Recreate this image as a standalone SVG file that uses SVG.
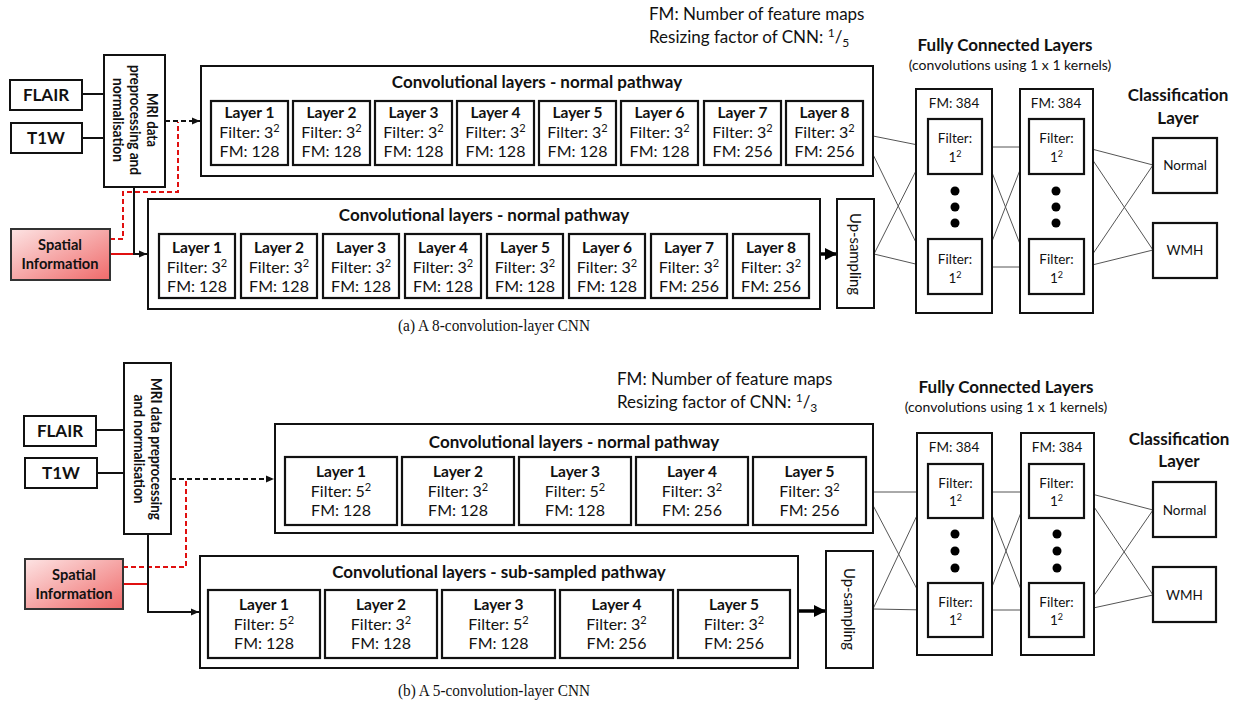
<svg xmlns="http://www.w3.org/2000/svg" width="1239" height="702" viewBox="0 0 1239 702">
<defs>
<style>
text{font-family:Lato,"Open Sans","Liberation Sans",sans-serif;fill:#111}
.box{fill:#fff;stroke:#111;stroke-width:2}
.lb{fill:#fff;stroke:#111;stroke-width:2.2}
.b{font-weight:bold}
.t16{font-size:16px}
.t14{font-size:14px}
.t13{font-size:13.5px}
.t17{font-size:17px}
.m{text-anchor:middle}
.ly{font-size:16px;text-anchor:middle}
.ly .b{font-size:15.5px}
.sup{font-size:11px}
.cap{font-family:"Liberation Serif","Times New Roman",serif;font-size:17px;text-anchor:middle}
.thin{stroke:#555;stroke-width:1;fill:none}
.blk{stroke:#111;stroke-width:2;fill:none}
.dash{stroke:#111;stroke-width:2;fill:none;stroke-dasharray:5,3}
.rdash{stroke:#e01010;stroke-width:2;fill:none;stroke-dasharray:5,3}
.red{stroke:#e01010;stroke-width:2;fill:none}
.thick{stroke:#000;stroke-width:3.5;fill:none}
.sp{fill:url(#pink);stroke:#333;stroke-width:2}
</style>
<linearGradient id="pink" x1="0" y1="0" x2="1" y2="1">
<stop offset="0" stop-color="#fde4e4"/>
<stop offset="1" stop-color="#ef6a6a"/>
</linearGradient>
<marker id="ah" markerWidth="10" markerHeight="10" refX="9" refY="5" orient="auto" markerUnits="userSpaceOnUse">
<path d="M1,1.5 L9,5 L1,8.5 Z" fill="#111"/>
</marker>
<marker id="ahb" markerWidth="14" markerHeight="14" refX="12" refY="7" orient="auto" markerUnits="userSpaceOnUse">
<path d="M1,1 L13,7 L1,13 Z" fill="#000"/>
</marker>
</defs>

<!-- ================= (a) ================= -->
<g id="a-legend">
<text class="t17" x="649" y="20">FM: Number of feature maps</text>
<text class="t17" x="649" y="43">Resizing factor of CNN: <tspan font-size="12" dy="-6">1</tspan><tspan dy="6">/</tspan><tspan font-size="12" dy="4">5</tspan></text>
</g>

<g id="a-connectors">
<line class="blk" x1="82" y1="94" x2="104" y2="94"/>
<line class="blk" x1="82" y1="138" x2="104" y2="138"/>
<line class="dash" x1="165" y1="121" x2="200" y2="121" marker-end="url(#ah)"/>
<polyline class="rdash" points="110,239 123,239 123,192 178,192 178,122"/>
<line class="red" x1="110" y1="254" x2="134" y2="254"/>
<polyline class="blk" points="134,187 134,254 147,254" marker-end="url(#ah)"/>
<line class="thick" x1="820" y1="254" x2="836" y2="254" marker-end="url(#ahb)"/>
<g class="thin">
<line x1="863" y1="134" x2="928" y2="147"/><line x1="863" y1="134" x2="928" y2="267"/>
<line x1="874" y1="254" x2="928" y2="147"/><line x1="874" y1="254" x2="928" y2="267"/>
<line x1="982" y1="147" x2="1029" y2="147"/><line x1="982" y1="147" x2="1029" y2="267"/>
<line x1="982" y1="267" x2="1029" y2="147"/><line x1="982" y1="267" x2="1029" y2="267"/>
<line x1="1084" y1="147" x2="1153" y2="165"/><line x1="1084" y1="147" x2="1153" y2="250"/>
<line x1="1084" y1="267" x2="1153" y2="165"/><line x1="1084" y1="267" x2="1153" y2="250"/>
</g>
</g>

<g id="a-flair"><rect class="box" x="10" y="80" width="72" height="30"/><text class="b t17 m" x="46" y="101">FLAIR</text></g>
<g id="a-t1w"><rect class="box" x="11" y="123" width="71" height="30"/><text class="b t17 m" x="46" y="144">T1W</text></g>
<g id="a-mri"><rect class="box" x="104" y="55" width="61" height="132"/>
<g class="b m" font-size="15">
<text transform="translate(147,120) rotate(90)" textLength="54" lengthAdjust="spacingAndGlyphs">MRI data</text>
<text transform="translate(130,120) rotate(90)" textLength="110" lengthAdjust="spacingAndGlyphs">preprocessing and</text>
<text transform="translate(113,120) rotate(90)" textLength="84" lengthAdjust="spacingAndGlyphs">normalisation</text>
</g></g>
<g id="a-spatial"><rect class="sp" x="11" y="229" width="99" height="51"/>
<text class="b m" font-size="16" x="60" y="250" textLength="44" lengthAdjust="spacingAndGlyphs">Spatial</text><text class="b m" font-size="16" x="60" y="269" textLength="77" lengthAdjust="spacingAndGlyphs">Information</text></g>

<g id="a-normal">
<rect class="box" x="201" y="66" width="672" height="110"/>
<text class="b t17 m" x="537" y="88">Convolutional layers - normal pathway</text>
</g>
<g id="a-n1"><rect class="lb" x="211" y="101" width="77" height="64"/><text class="ly"><tspan class="b" x="249.5" y="118">Layer 1</tspan><tspan x="249.5" y="138">Filter: 3<tspan class="sup" dy="-6">2</tspan></tspan><tspan x="249.5" y="157">FM: 128</tspan></text></g>
<g id="a-n2"><rect class="lb" x="293" y="101" width="77" height="64"/><text class="ly"><tspan class="b" x="331.5" y="118">Layer 2</tspan><tspan x="331.5" y="138">Filter: 3<tspan class="sup" dy="-6">2</tspan></tspan><tspan x="331.5" y="157">FM: 128</tspan></text></g>
<g id="a-n3"><rect class="lb" x="375" y="101" width="77" height="64"/><text class="ly"><tspan class="b" x="413.5" y="118">Layer 3</tspan><tspan x="413.5" y="138">Filter: 3<tspan class="sup" dy="-6">2</tspan></tspan><tspan x="413.5" y="157">FM: 128</tspan></text></g>
<g id="a-n4"><rect class="lb" x="457" y="101" width="77" height="64"/><text class="ly"><tspan class="b" x="495.5" y="118">Layer 4</tspan><tspan x="495.5" y="138">Filter: 3<tspan class="sup" dy="-6">2</tspan></tspan><tspan x="495.5" y="157">FM: 128</tspan></text></g>
<g id="a-n5"><rect class="lb" x="539" y="101" width="77" height="64"/><text class="ly"><tspan class="b" x="577.5" y="118">Layer 5</tspan><tspan x="577.5" y="138">Filter: 3<tspan class="sup" dy="-6">2</tspan></tspan><tspan x="577.5" y="157">FM: 128</tspan></text></g>
<g id="a-n6"><rect class="lb" x="621" y="101" width="77" height="64"/><text class="ly"><tspan class="b" x="659.5" y="118">Layer 6</tspan><tspan x="659.5" y="138">Filter: 3<tspan class="sup" dy="-6">2</tspan></tspan><tspan x="659.5" y="157">FM: 128</tspan></text></g>
<g id="a-n7"><rect class="lb" x="704" y="101" width="77" height="64"/><text class="ly"><tspan class="b" x="742.5" y="118">Layer 7</tspan><tspan x="742.5" y="138">Filter: 3<tspan class="sup" dy="-6">2</tspan></tspan><tspan x="742.5" y="157">FM: 256</tspan></text></g>
<g id="a-n8"><rect class="lb" x="786" y="101" width="77" height="64"/><text class="ly"><tspan class="b" x="824.5" y="118">Layer 8</tspan><tspan x="824.5" y="138">Filter: 3<tspan class="sup" dy="-6">2</tspan></tspan><tspan x="824.5" y="157">FM: 256</tspan></text></g>

<g id="a-sub">
<rect class="box" x="148" y="199" width="672" height="110"/>
<text class="b t17 m" x="484" y="221">Convolutional layers - normal pathway</text>
</g>
<g id="a-s1"><rect class="lb" x="159" y="234" width="76" height="64"/><text class="ly"><tspan class="b" x="197" y="253">Layer 1</tspan><tspan x="197" y="273">Filter: 3<tspan class="sup" dy="-6">2</tspan></tspan><tspan x="197" y="292">FM: 128</tspan></text></g>
<g id="a-s2"><rect class="lb" x="241" y="234" width="76" height="64"/><text class="ly"><tspan class="b" x="279" y="253">Layer 2</tspan><tspan x="279" y="273">Filter: 3<tspan class="sup" dy="-6">2</tspan></tspan><tspan x="279" y="292">FM: 128</tspan></text></g>
<g id="a-s3"><rect class="lb" x="323" y="234" width="76" height="64"/><text class="ly"><tspan class="b" x="361" y="253">Layer 3</tspan><tspan x="361" y="273">Filter: 3<tspan class="sup" dy="-6">2</tspan></tspan><tspan x="361" y="292">FM: 128</tspan></text></g>
<g id="a-s4"><rect class="lb" x="405" y="234" width="76" height="64"/><text class="ly"><tspan class="b" x="443" y="253">Layer 4</tspan><tspan x="443" y="273">Filter: 3<tspan class="sup" dy="-6">2</tspan></tspan><tspan x="443" y="292">FM: 128</tspan></text></g>
<g id="a-s5"><rect class="lb" x="487" y="234" width="76" height="64"/><text class="ly"><tspan class="b" x="525" y="253">Layer 5</tspan><tspan x="525" y="273">Filter: 3<tspan class="sup" dy="-6">2</tspan></tspan><tspan x="525" y="292">FM: 128</tspan></text></g>
<g id="a-s6"><rect class="lb" x="569" y="234" width="76" height="64"/><text class="ly"><tspan class="b" x="607" y="253">Layer 6</tspan><tspan x="607" y="273">Filter: 3<tspan class="sup" dy="-6">2</tspan></tspan><tspan x="607" y="292">FM: 128</tspan></text></g>
<g id="a-s7"><rect class="lb" x="651" y="234" width="76" height="64"/><text class="ly"><tspan class="b" x="689" y="253">Layer 7</tspan><tspan x="689" y="273">Filter: 3<tspan class="sup" dy="-6">2</tspan></tspan><tspan x="689" y="292">FM: 256</tspan></text></g>
<g id="a-s8"><rect class="lb" x="733" y="234" width="76" height="64"/><text class="ly"><tspan class="b" x="771" y="253">Layer 8</tspan><tspan x="771" y="273">Filter: 3<tspan class="sup" dy="-6">2</tspan></tspan><tspan x="771" y="292">FM: 256</tspan></text></g>

<g id="a-up"><rect class="box" x="837" y="199" width="37" height="109"/><text class="t16 m" transform="translate(850,254) rotate(90)" textLength="82" lengthAdjust="spacingAndGlyphs">Up-sampling</text></g>

<g id="a-fc-title">
<text class="b t17 m" x="1005" y="51">Fully Connected Layers</text>
<text class="m" font-size="14" x="1010" y="70">(convolutions using 1 x 1 kernels)</text>
</g>
<g id="a-fc1"><rect class="box" x="916" y="89" width="76" height="224"/><text class="t13 m" x="954" y="108">FM: 384</text>
<circle cx="955" cy="191" r="4.5"/><circle cx="955" cy="207" r="4.5"/><circle cx="955" cy="223" r="4.5"/></g>
<g id="a-fc1-top"><rect class="lb" x="928" y="119" width="54" height="55"/><text class="t13 m" x="955" y="143">Filter:</text><text class="t13 m" x="955" y="162">1<tspan font-size="9" dy="-5">2</tspan></text></g>
<g id="a-fc1-bot"><rect class="lb" x="928" y="239" width="54" height="55"/><text class="t13 m" x="955" y="264">Filter:</text><text class="t13 m" x="955" y="283">1<tspan font-size="9" dy="-5">2</tspan></text></g>
<g id="a-fc2"><rect class="box" x="1020" y="89" width="73" height="224"/><text class="t13 m" x="1056" y="108">FM: 384</text>
<circle cx="1056" cy="191" r="4.5"/><circle cx="1056" cy="207" r="4.5"/><circle cx="1056" cy="223" r="4.5"/></g>
<g id="a-fc2-top"><rect class="lb" x="1029" y="119" width="55" height="55"/><text class="t13 m" x="1056.5" y="143">Filter:</text><text class="t13 m" x="1056.5" y="162">1<tspan font-size="9" dy="-5">2</tspan></text></g>
<g id="a-fc2-bot"><rect class="lb" x="1029" y="239" width="55" height="55"/><text class="t13 m" x="1056.5" y="264">Filter:</text><text class="t13 m" x="1056.5" y="283">1<tspan font-size="9" dy="-5">2</tspan></text></g>

<g id="a-cls-title"><text class="b m" font-size="17" x="1178" y="101">Classification</text><text class="b m" font-size="17" x="1178" y="124">Layer</text></g>
<g id="a-normal-out"><rect class="lb" x="1153" y="138" width="64" height="55"/><text class="t13 m" x="1185" y="170">Normal</text></g>
<g id="a-wmh"><rect class="lb" x="1153" y="223" width="64" height="55"/><text class="t13 m" x="1185" y="255">WMH</text></g>

<text class="cap" x="494" y="331" textLength="192" lengthAdjust="spacingAndGlyphs">(a) A 8-convolution-layer CNN</text>

<!-- ================= (b) ================= -->
<g id="b-legend">
<text class="t17" x="617" y="385">FM: Number of feature maps</text>
<text class="t17" x="617" y="408">Resizing factor of CNN: <tspan font-size="12" dy="-6">1</tspan><tspan dy="6">/</tspan><tspan font-size="12" dy="4">3</tspan></text>
</g>

<g id="b-connectors">
<line class="blk" x1="96" y1="430" x2="124" y2="430"/>
<line class="blk" x1="97" y1="473" x2="124" y2="473"/>
<line class="dash" x1="171" y1="479" x2="274" y2="479" marker-end="url(#ah)"/>
<polyline class="rdash" points="123,567 186,567 186,480"/>
<line class="red" x1="123" y1="584" x2="148" y2="584"/>
<polyline class="blk" points="148,534 148,612 199,612" marker-end="url(#ah)"/>
<line class="thick" x1="798" y1="611" x2="825" y2="611" marker-end="url(#ahb)"/>
<g class="thin">
<line x1="866" y1="492" x2="928" y2="492"/><line x1="866" y1="492" x2="928" y2="610"/>
<line x1="873" y1="609" x2="928" y2="492"/><line x1="873" y1="609" x2="928" y2="610"/>
<line x1="983" y1="492" x2="1029" y2="492"/><line x1="983" y1="492" x2="1029" y2="610"/>
<line x1="983" y1="610" x2="1029" y2="492"/><line x1="983" y1="610" x2="1029" y2="610"/>
<line x1="1084" y1="492" x2="1153" y2="510"/><line x1="1084" y1="492" x2="1153" y2="595"/>
<line x1="1084" y1="610" x2="1153" y2="510"/><line x1="1084" y1="610" x2="1153" y2="595"/>
</g>
</g>

<g id="b-flair"><rect class="box" x="24" y="416" width="72" height="30"/><text class="b t17 m" x="60" y="437">FLAIR</text></g>
<g id="b-t1w"><rect class="box" x="25" y="458" width="72" height="30"/><text class="b t17 m" x="61" y="479">T1W</text></g>
<g id="b-mri"><rect class="box" x="124" y="363" width="47" height="171"/>
<g class="b m" font-size="15">
<text transform="translate(151,449) rotate(90)" textLength="142" lengthAdjust="spacingAndGlyphs">MRI data preprocessing</text>
<text transform="translate(134,449) rotate(90)" textLength="109" lengthAdjust="spacingAndGlyphs">and normalisation</text>
</g></g>
<g id="b-spatial"><rect class="sp" x="25" y="559" width="98" height="50"/>
<text class="b m" font-size="16" x="74" y="580" textLength="44" lengthAdjust="spacingAndGlyphs">Spatial</text><text class="b m" font-size="16" x="74" y="599" textLength="77" lengthAdjust="spacingAndGlyphs">Information</text></g>

<g id="b-normal">
<rect class="box" x="275" y="424" width="598" height="109"/>
<text class="b t17 m" x="574" y="448">Convolutional layers - normal pathway</text>
</g>
<g id="b-n1"><rect class="lb" x="285" y="457" width="112" height="68"/><text class="ly"><tspan class="b" x="341" y="477">Layer 1</tspan><tspan x="341" y="497">Filter: 5<tspan class="sup" dy="-6">2</tspan></tspan><tspan x="341" y="516">FM: 128</tspan></text></g>
<g id="b-n2"><rect class="lb" x="402" y="457" width="112" height="68"/><text class="ly"><tspan class="b" x="458" y="477">Layer 2</tspan><tspan x="458" y="497">Filter: 3<tspan class="sup" dy="-6">2</tspan></tspan><tspan x="458" y="516">FM: 128</tspan></text></g>
<g id="b-n3"><rect class="lb" x="519" y="457" width="112" height="68"/><text class="ly"><tspan class="b" x="575" y="477">Layer 3</tspan><tspan x="575" y="497">Filter: 5<tspan class="sup" dy="-6">2</tspan></tspan><tspan x="575" y="516">FM: 128</tspan></text></g>
<g id="b-n4"><rect class="lb" x="636" y="457" width="112" height="68"/><text class="ly"><tspan class="b" x="692" y="477">Layer 4</tspan><tspan x="692" y="497">Filter: 3<tspan class="sup" dy="-6">2</tspan></tspan><tspan x="692" y="516">FM: 256</tspan></text></g>
<g id="b-n5"><rect class="lb" x="753" y="457" width="113" height="68"/><text class="ly"><tspan class="b" x="809.5" y="477">Layer 5</tspan><tspan x="809.5" y="497">Filter: 3<tspan class="sup" dy="-6">2</tspan></tspan><tspan x="809.5" y="516">FM: 256</tspan></text></g>

<g id="b-sub">
<rect class="box" x="200" y="556" width="598" height="112"/>
<text class="b t17 m" x="499" y="578">Convolutional layers - sub-sampled pathway</text>
</g>
<g id="b-s1"><rect class="lb" x="208" y="590" width="112" height="68"/><text class="ly"><tspan class="b" x="264" y="610">Layer 1</tspan><tspan x="264" y="630">Filter: 5<tspan class="sup" dy="-6">2</tspan></tspan><tspan x="264" y="649">FM: 128</tspan></text></g>
<g id="b-s2"><rect class="lb" x="325" y="590" width="112" height="68"/><text class="ly"><tspan class="b" x="381" y="610">Layer 2</tspan><tspan x="381" y="630">Filter: 3<tspan class="sup" dy="-6">2</tspan></tspan><tspan x="381" y="649">FM: 128</tspan></text></g>
<g id="b-s3"><rect class="lb" x="442" y="590" width="113" height="68"/><text class="ly"><tspan class="b" x="498.5" y="610">Layer 3</tspan><tspan x="498.5" y="630">Filter: 5<tspan class="sup" dy="-6">2</tspan></tspan><tspan x="498.5" y="649">FM: 128</tspan></text></g>
<g id="b-s4"><rect class="lb" x="560" y="590" width="113" height="68"/><text class="ly"><tspan class="b" x="616.5" y="610">Layer 4</tspan><tspan x="616.5" y="630">Filter: 3<tspan class="sup" dy="-6">2</tspan></tspan><tspan x="616.5" y="649">FM: 256</tspan></text></g>
<g id="b-s5"><rect class="lb" x="678" y="590" width="112" height="68"/><text class="ly"><tspan class="b" x="734" y="610">Layer 5</tspan><tspan x="734" y="630">Filter: 3<tspan class="sup" dy="-6">2</tspan></tspan><tspan x="734" y="649">FM: 256</tspan></text></g>

<g id="b-up"><rect class="box" x="826" y="551" width="47" height="117"/><text class="t16 m" transform="translate(844,609) rotate(90)" textLength="82" lengthAdjust="spacingAndGlyphs">Up-sampling</text></g>

<g id="b-fc-title">
<text class="b t17 m" x="1006" y="393">Fully Connected Layers</text>
<text class="m" font-size="14" x="1006" y="412">(convolutions using 1 x 1 kernels)</text>
</g>
<g id="b-fc1"><rect class="box" x="917" y="433" width="75" height="222"/><text class="t13 m" x="954" y="452">FM: 384</text>
<circle cx="955" cy="534" r="4.5"/><circle cx="955" cy="551" r="4.5"/><circle cx="955" cy="568" r="4.5"/></g>
<g id="b-fc1-top"><rect class="lb" x="928" y="464" width="55" height="54"/><text class="t13 m" x="955.5" y="488">Filter:</text><text class="t13 m" x="955.5" y="506">1<tspan font-size="9" dy="-5">2</tspan></text></g>
<g id="b-fc1-bot"><rect class="lb" x="928" y="583" width="55" height="54"/><text class="t13 m" x="955.5" y="607">Filter:</text><text class="t13 m" x="955.5" y="625">1<tspan font-size="9" dy="-5">2</tspan></text></g>
<g id="b-fc2"><rect class="box" x="1021" y="433" width="73" height="222"/><text class="t13 m" x="1057" y="452">FM: 384</text>
<circle cx="1057" cy="534" r="4.5"/><circle cx="1057" cy="551" r="4.5"/><circle cx="1057" cy="568" r="4.5"/></g>
<g id="b-fc2-top"><rect class="lb" x="1029" y="464" width="55" height="54"/><text class="t13 m" x="1056.5" y="488">Filter:</text><text class="t13 m" x="1056.5" y="506">1<tspan font-size="9" dy="-5">2</tspan></text></g>
<g id="b-fc2-bot"><rect class="lb" x="1029" y="583" width="55" height="54"/><text class="t13 m" x="1056.5" y="607">Filter:</text><text class="t13 m" x="1056.5" y="625">1<tspan font-size="9" dy="-5">2</tspan></text></g>

<g id="b-cls-title"><text class="b m" font-size="17" x="1179" y="445">Classification</text><text class="b m" font-size="17" x="1179" y="467">Layer</text></g>
<g id="b-normal-out"><rect class="lb" x="1153" y="482" width="63" height="55"/><text class="t13 m" x="1184.5" y="515">Normal</text></g>
<g id="b-wmh"><rect class="lb" x="1153" y="567" width="63" height="55"/><text class="t13 m" x="1184.5" y="600">WMH</text></g>

<text class="cap" x="494" y="696" textLength="192" lengthAdjust="spacingAndGlyphs">(b) A 5-convolution-layer CNN</text>
</svg>
